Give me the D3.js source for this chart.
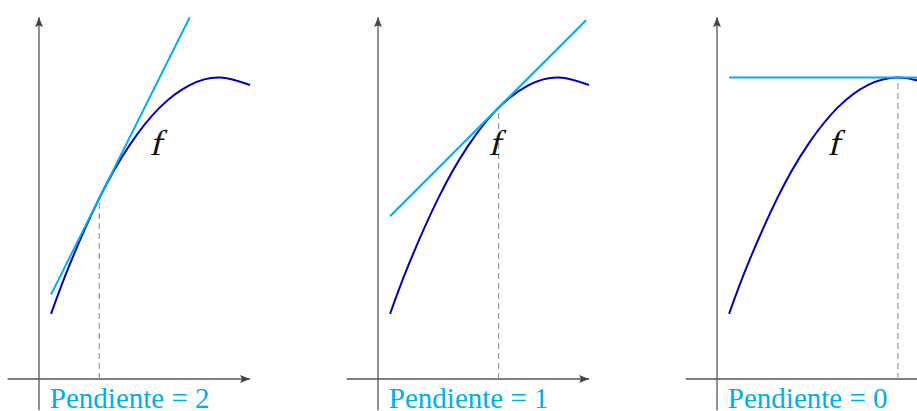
<!DOCTYPE html>
<html>
<head><meta charset="utf-8"><script src="https://cdn.jsdelivr.net/npm/d3@7"></script></head>
<body style="margin:0">
<script>
const width = 917;
const height = 411;

// the function f (same curve in every panel)
const curveX = [0.2, 0.5, 1, 1.5, 2, 2.5, 3, 3.5, 4];
const curveY = [1.08, 1.875, 3, 3.875, 4.5, 4.875, 5, 4.875, 4.5];

// one tangent per panel
const slopes = [2, 1, 0];
const tangentAt = [1, 2, 3];
const tangentFrom = [0.2, 0.2, 0.2];
const tangentTo = [2.5, 3.45, 4.5];
const labels = ["Pendiente = 2", "Pendiente = 1", "Pendiente = 0"];

const panelLeft = [39, 378, 717];
const unit = 60.3;
const originY = 379;

const curveColor = "#0000b8";
const tangentColor = "#00aeef";
const axisColor = "#555";

const svg = d3.select("body")
  .append("svg")
  .attr("width", width)
  .attr("height", height)
  .style("display", "block");

const defs = svg.append("defs");
defs.append("marker")
  .attr("id", "arrow")
  .attr("viewBox", "0 0 10 8")
  .attr("refX", 10)
  .attr("refY", 4)
  .attr("markerWidth", 10)
  .attr("markerHeight", 8)
  .attr("markerUnits", "userSpaceOnUse")
  .attr("orient", "auto")
  .append("path")
  .attr("d", "M0,0 L10,4 L0,8 L2,4 Z")
  .attr("fill", "#444");

function f(x) {
  // look up the read value at a tangent point
  const i = curveX.indexOf(x);
  return curveY[i];
}

slopes.forEach((slope, i) => {
  const x = d3.scaleLinear().domain([0, 1]).range([panelLeft[i], panelLeft[i] + unit]);
  const y = d3.scaleLinear().domain([0, 1]).range([originY, originY - unit]);

  const g = svg.append("g");

  // axes
  g.append("line")
    .attr("x1", x(-0.52)).attr("x2", x(3.5))
    .attr("y1", y(0)).attr("y2", y(0))
    .attr("stroke", axisColor)
    .attr("stroke-width", 1.3)
    .attr("marker-end", "url(#arrow)");

  g.append("line")
    .attr("x1", x(0)).attr("x2", x(0))
    .attr("y1", y(-0.52)).attr("y2", y(6))
    .attr("stroke", axisColor)
    .attr("stroke-width", 1.3)
    .attr("marker-end", "url(#arrow)");

  // dashed drop line
  const xt = tangentAt[i];
  g.append("line")
    .attr("x1", x(xt)).attr("x2", x(xt))
    .attr("y1", y(0)).attr("y2", y(f(xt)))
    .attr("stroke", "#999")
    .attr("stroke-width", 1.2)
    .attr("stroke-dasharray", "6,4");

  // curve
  const line = d3.line()
    .x(d => x(d[0]))
    .y(d => y(d[1]))
    .curve(d3.curveNatural);

  const pts = curveX.map((v, k) => [v, curveY[k]]).filter(d => i === 2 || d[0] <= 3.5);

  g.append("path")
    .datum(pts)
    .attr("d", line)
    .attr("fill", "none")
    .attr("stroke", curveColor)
    .attr("stroke-width", 2);

  // tangent
  const yt = f(xt);
  const tLine = [tangentFrom[i], tangentTo[i]].map(v => [v, yt + slope * (v - xt)]);
  g.append("path")
    .datum(tLine)
    .attr("d", d3.line().x(d => x(d[0])).y(d => y(d[1])))
    .attr("fill", "none")
    .attr("stroke", tangentColor)
    .attr("stroke-width", 2);

  // f label (regular serif, slanted by hand)
  g.append("text")
    .attr("transform", `translate(${x(1.83)},${y(3.72)}) skewX(-14)`)
    .style("font-family", "'Liberation Serif'")
    .style("font-size", "36px")
    .style("fill", "#111")
    .text("f");

  // slope label
  g.append("text")
    .attr("x", x(0.18))
    .attr("y", 408)
    .style("font-family", "'Liberation Serif'")
    .style("font-size", "29px")
    .style("fill", tangentColor)
    .text(labels[i]);
});
</script>
</body>
</html>
